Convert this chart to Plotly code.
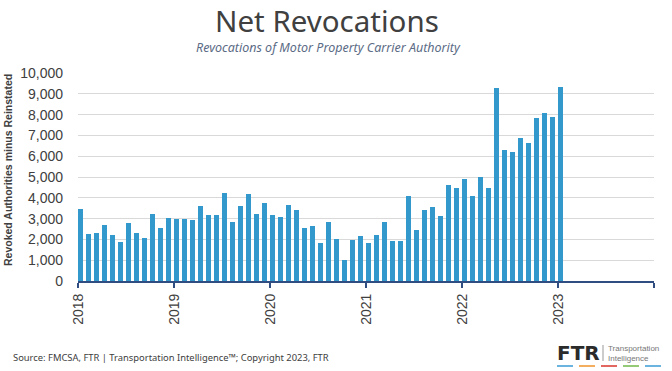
import plotly.graph_objects as go

# Monthly net revocations, Jan 2018 .. Jan 2023
values_2018 = [3440, 2270, 2330, 2700, 2220, 1860, 2770, 2330, 2050, 3230, 2530, 3040]
values_2019 = [2960, 3000, 2940, 3630, 3180, 3180, 4230, 2860, 3620, 4200, 3240, 3740]
values_2020 = [3180, 3100, 3650, 3390, 2540, 2660, 1840, 2820, 2020, 1000, 1950, 2180]
values_2021 = [1840, 2190, 2830, 1940, 1920, 4080, 2450, 3410, 3550, 3110, 4610, 4460]
values_2022 = [4900, 4080, 4980, 4460, 9280, 6320, 6180, 6880, 6640, 7840, 8100, 7900]
values_2023 = [9330]

values = values_2018 + values_2019 + values_2020 + values_2021 + values_2022 + values_2023
month_index = list(range(len(values)))

year_labels = ["2018", "2019", "2020", "2021", "2022", "2023", ""]
year_ticks = [12 * i for i in range(len(year_labels))]
y_ticks = list(range(0, 10001, 1000))

W, H = 672, 371
L, R, T, B = 78, 18, 73, 90
pw, ph = W - L - R, H - T - B

def px(x):
    return (x - L) / pw

def py(y):
    return (H - B - y) / ph

fig = go.Figure()
fig.add_trace(go.Bar(
    x=month_index, y=values, offset=0.0, width=0.68,
    marker=dict(color="#3399cc", line=dict(width=0)),
    hoverinfo="y",
))

navy = "#2f4d80"
fig.update_layout(
    width=W, height=H,
    margin=dict(l=L, r=R, t=T, b=B),
    paper_bgcolor="white", plot_bgcolor="white",
    showlegend=False,
    font=dict(family="Liberation Sans, Arial, sans-serif", color="#404040"),
    xaxis=dict(
        range=[0, 72], tickmode="array", tickvals=year_ticks, ticktext=year_labels,
        tickangle=-90, ticks="outside", ticklen=5, tickwidth=1.5, tickcolor=navy,
        showline=True, linecolor=navy, linewidth=2, showgrid=False, zeroline=False,
        tickfont=dict(size=14, color="#404040"),
    ),
    yaxis=dict(
        range=[0, 10000], tickmode="array", tickvals=y_ticks,
        tickformat=",d", showgrid=True, gridcolor="#d9d9d9", gridwidth=1,
        zeroline=False, showline=False, ticks="", ticklabelstandoff=14,
        tickfont=dict(size=14, color="#404040"),
    ),
    bargap=0,
)

annotations = [
    dict(text="Net Revocations", x=px(327), y=py(20.3), xref="paper", yref="paper",
         showarrow=False, xanchor="center", yanchor="middle", borderpad=0,
         font=dict(family="Noto Sans, DejaVu Sans, sans-serif", size=29.5, color="#404040")),
    dict(text="<i>Revocations of Motor Property Carrier Authority</i>", x=px(328), y=py(47.5),
         xref="paper", yref="paper", showarrow=False, xanchor="center", yanchor="middle",
         borderpad=0,
         font=dict(family="Noto Sans, DejaVu Sans, sans-serif", size=12.5, color="#5b6b85")),
    dict(text="<b>Revoked Authorities minus Reinstated</b>", x=px(8), y=py(170),
         xref="paper", yref="paper", showarrow=False, textangle=-90,
         xanchor="center", yanchor="middle",
         font=dict(family="Liberation Sans, Arial, sans-serif", size=10.5, color="#404040")),
    dict(text="Source: FMCSA, FTR | Transportation Intelligence™; Copyright 2023, FTR",
         x=px(11), y=py(357), xref="paper", yref="paper", showarrow=False,
         xanchor="left", yanchor="middle",
         font=dict(family="Noto Sans, DejaVu Sans, sans-serif", size=9.4, color="#404040")),
    dict(text="<b>FTR</b>", x=px(578), y=py(353), xref="paper", yref="paper", showarrow=False,
         xanchor="center", yanchor="middle",
         font=dict(family="DejaVu Sans, sans-serif", size=20, color="#2b2b2b")),
    dict(text="Transportation<br>Intelligence", x=px(606), y=py(353), xref="paper", yref="paper",
         showarrow=False, xanchor="left", yanchor="middle", align="left",
         font=dict(family="Liberation Sans, Arial, sans-serif", size=8, color="#777777")),
]
fig.update_layout(annotations=annotations)

shapes = [
    dict(type="line", xref="paper", yref="paper", x0=px(603), x1=px(603), y0=py(345), y1=py(361),
         line=dict(color="#999999", width=1)),
]
dash_colors = ["#3a9bd6", "#f0932b", "#d9342b", "#70b84a", "#3a9bd6"]
for i, c in enumerate(dash_colors):
    x0 = 557 + i * 22
    shapes.append(dict(type="line", xref="paper", yref="paper", x0=px(x0), x1=px(x0 + 16),
                       y0=py(366), y1=py(366), line=dict(color=c, width=1.5)))
fig.update_layout(shapes=shapes)

fig.write_html("out.html", config={"displayModeBar": False},
               post_script="document.body.style.margin='0';")
